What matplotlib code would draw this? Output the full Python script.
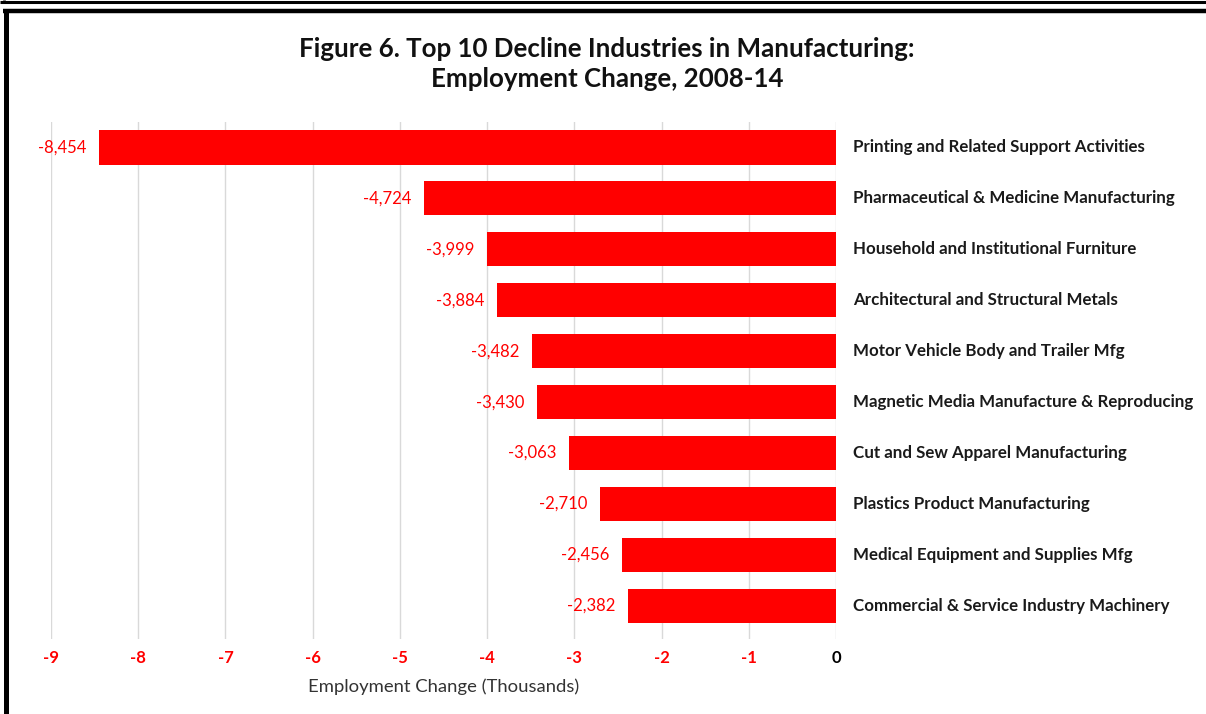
import matplotlib
matplotlib.use("Agg")
import matplotlib.pyplot as plt
from matplotlib.lines import Line2D

industries = [
    "Printing and Related Support Activities",
    "Pharmaceutical & Medicine Manufacturing",
    "Household and Institutional Furniture",
    "Architectural and Structural Metals",
    "Motor Vehicle Body and Trailer Mfg",
    "Magnetic Media Manufacture & Reproducing",
    "Cut and Sew Apparel Manufacturing",
    "Plastics Product Manufacturing",
    "Medical Equipment and Supplies Mfg",
    "Commercial & Service Industry Machinery",
]
changes = [-8454, -4724, -3999, -3884, -3482, -3430, -3063, -2710, -2456, -2382]
x_ticks = [-9, -8, -7, -6, -5, -4, -3, -2, -1, 0]

FONT = "Lato"
W, H = 1206, 714
fig = plt.figure(figsize=(W / 100, H / 100), dpi=100)
fig.patch.set_facecolor("white")

ax = fig.add_axes([51 / W, 1 - 639 / H, (836 - 51) / W, (639 - 122) / H])
ypos = list(range(len(industries)))
vals = [v / 1000 for v in changes]
ax.barh(ypos, vals, height=0.67, color="#ff0000", zorder=3)
ax.set_ylim(len(industries) - 0.5 + 0.15, -0.5)
ax.set_xlim(-9, 0)
ax.set_xticks(x_ticks)
ax.set_xticklabels([str(t) for t in x_ticks], fontfamily=FONT, fontweight="bold", fontsize=12)
for lab, t in zip(ax.get_xticklabels(), x_ticks):
    lab.set_color("black" if t == 0 else "#ff0000")
ax.tick_params(axis="x", length=0, pad=8)
ax.set_yticks([])
ax.grid(axis="x", color="#d9d9d9", linewidth=1, zorder=0)
for s in ax.spines.values():
    s.set_visible(False)

for y, v, raw, name in zip(ypos, vals, changes, industries):
    ax.annotate(f"{raw:,}", xy=(v, y), xytext=(-9, 0), textcoords="offset points",
                ha="right", va="center", color="#ff0000", fontsize=12, fontfamily=FONT)
    ax.annotate(name, xy=(0, y), xytext=(12.5, 0), textcoords="offset points",
                ha="left", va="center", color="#1a1a1a", fontsize=12.2,
                fontfamily=FONT, fontweight="bold", annotation_clip=False)

ax.set_xlabel("Employment Change (Thousands)", fontfamily=FONT, fontsize=13.3,
              color="#333333", labelpad=9)

fig.text(607 / W, 1 - 64 / H, "Figure 6. Top 10 Decline Industries in Manufacturing:\nEmployment Change, 2008-14",
         ha="center", va="center", fontfamily=FONT, fontweight="bold", fontsize=18.6,
         linespacing=1.3, color="#111111")

# frame lines
def fl(x0, y0, x1, y1, lw, c="black"):
    fig.add_artist(Line2D([x0 / W, x1 / W], [1 - y0 / H, 1 - y1 / H], color=c,
                          linewidth=lw, solid_capstyle="butt"))

fl(0, 1.5, W, 1.5, 2.2)
fl(4, 0, 4, 2.5, 2)
fl(3, 11, W, 11, 3.2)
fl(5.5, 9.5, 5.5, H, 3.6)

fig.savefig("out.png", dpi=100)
